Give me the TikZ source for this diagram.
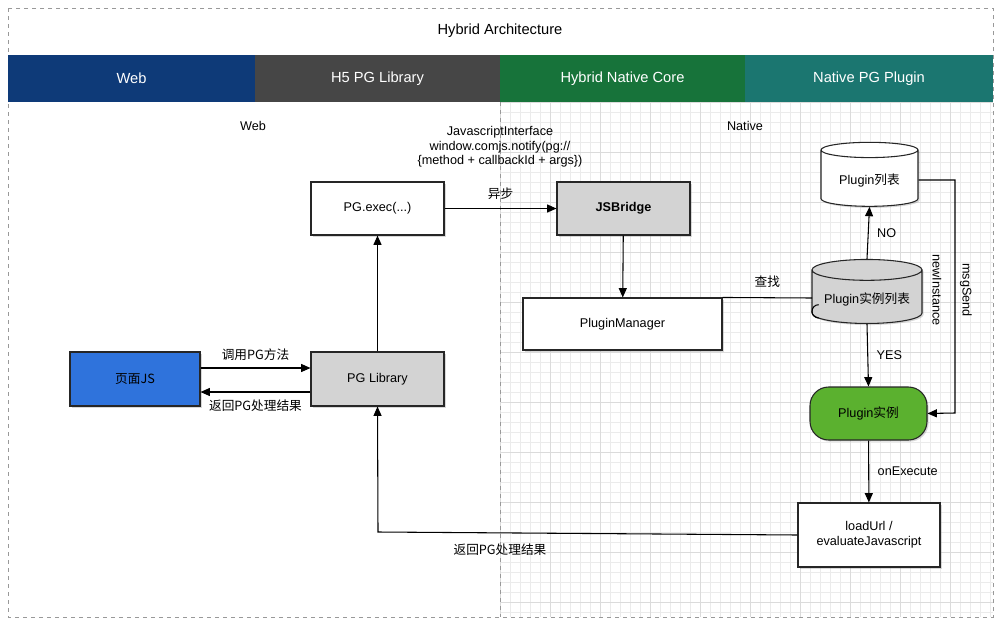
\documentclass[tikz,border=0pt]{standalone}
\usepackage{fontspec}
\setmainfont{Liberation Sans}
\newfontfamily\cjk{Noto Sans CJK SC}
\usetikzlibrary{shapes.geometric,arrows.meta,shadows}
\definecolor{webc}{HTML}{0E3A78}
\definecolor{h5c}{HTML}{464646}
\definecolor{corec}{HTML}{17733A}
\definecolor{plugc}{HTML}{1B7670}
\definecolor{pagejs}{HTML}{2F73DC}
\definecolor{boxgray}{HTML}{D3D3D3}
\definecolor{pgreen}{HTML}{5BB12F}
\begin{document}
\begin{tikzpicture}[x=0.75pt,y=-0.75pt,
  every node/.style={font=\fontsize{9.5}{11}\selectfont},
  box/.style={draw=black!85,line width=0.8pt,minimum width=#1*0.75pt,drop shadow={shadow xshift=1.2pt,shadow yshift=-1.2pt,opacity=0.3}},
  box/.default=133,
  arr/.style={-{Triangle[length=7pt,width=6pt]},line width=0.8pt},
  ln/.style={line width=0.8pt},
  hdr/.style={text=white,font=\fontsize{11}{13}\selectfont,minimum height=35.25pt,inner sep=0},
  cyl/.style={cylinder,shape border rotate=90,aspect=0.22,draw=black!85,line width=0.8pt,minimum width=#1*0.75pt,minimum height=48pt,drop shadow={shadow xshift=1.2pt,shadow yshift=-1.2pt,opacity=0.3}}]
\useasboundingbox (0,0) rectangle (1000,625);
\fill[white] (0,0) rectangle (1000,625);
% grid
\begin{scope}
\clip (500,102) rectangle (993,617);
\foreach \x in {500,510,...,1000} \draw[black!8,line width=0.3pt] (\x,102)--(\x,617);
\foreach \y in {102,112,...,620} \draw[black!8,line width=0.3pt] (500,\y)--(993,\y);
\foreach \x in {500,550,...,1000} \draw[black!14,line width=0.4pt] (\x,102)--(\x,617);
\foreach \y in {102,152,...,620} \draw[black!14,line width=0.4pt] (500,\y)--(993,\y);
\end{scope}
\draw[black!40,dashed,line width=0.6pt] (8,8) rectangle (993,617);
\draw[black!40,dashed,line width=0.6pt] (500,102) -- (500,617);
\node (title) at (500,31) {\fontsize{11}{13}\selectfont Hybrid Architecture};
\node[hdr,fill=webc,minimum width=185.25pt] (hweb) at (131.5,78.5) {Web};
\node[hdr,fill=h5c,minimum width=183.75pt] (hh5) at (377.5,78.5) {H5 PG Library};
\node[hdr,fill=corec,minimum width=183.75pt] (hcore) at (622.5,78.5) {Hybrid Native Core};
\node[hdr,fill=plugc,minimum width=186pt] (hplug) at (869,78.5) {Native PG Plugin};
\node (lweb) at (253,126) {Web};
\node (lnat) at (745,126) {Native};
\node[align=center,inner sep=0] (jsi) at (500,147) {JavascriptInterface\\window.comjs.notify(pg://\\\{method + callbackId + args\})};
% nodes
\node[box,fill=white,minimum height=39.75pt] (exec) at (377.5,208.5) {PG.exec(...)};
\node[box,fill=boxgray,minimum height=39.75pt,font=\fontsize{9.5}{11}\bfseries] (jsb) at (623.5,208.5) {JSBridge};
\node[box=199,fill=white,minimum height=39pt] (pm) at (622.5,324) {PluginManager};
\node[box=130,fill=pagejs,minimum height=40.5pt] (page) at (135,379) {\cjk 页面JS};
\node[box,fill=boxgray,minimum height=40.5pt] (lib) at (377.5,379) {PG Library};
\node[cyl=97,fill=white] (plist) at (869.5,180) {Plugin\cjk 列表};
\node[cyl=110,fill=boxgray] (ilist) at (867,299) {Plugin\cjk 实例列表};
\node[box=117,fill=pgreen,rounded corners=14pt,minimum height=39.75pt] (inst) at (868.5,413.5) {Plugin\cjk 实例};
\node[box=142,fill=white,minimum height=48pt,align=center] (load) at (869,535) {loadUrl /\\evaluateJavascript};
% connectors
\draw[arr] (page.east |- 0,368) -- (lib.west |- 0,368) node[midway,above=2pt] {\cjk 调用PG方法};
\draw[arr] (lib.west |- 0,392) -- (page.east |- 0,392) node[midway,below=2pt] {\cjk 返回PG处理结果};
\draw[arr] (lib) -- (exec);
\draw[arr] (exec) -- (jsb) node[midway,above=3pt] {\cjk 异步};
\draw[arr] (jsb) -- (pm);
\coordinate (cup) at (812,298);
\draw[ln] (pm.north east) -- (cup) node[midway,above=4pt,xshift=0pt] {\cjk 查找};
\draw[ln] ([xshift=5pt]cup) ++(0,-5pt) arc[start angle=90,end angle=270,radius=5pt];
\draw[arr] (ilist.north) -- (plist.south) node[midway,right=3pt] {NO};
\draw[arr] (ilist.south) -- (inst.north) node[midway,right=3pt] {YES};
\draw[arr] (plist.east) -- (955,180) -- (955,413) -- (inst.east);
\node[rotate=-90] (ni) at (937,290) {newInstance};
\node[rotate=-90] (ms) at (966,290) {msgSend};
\draw[arr] (inst) -- (load) node[midway,right=3pt] {onExecute};
\draw[arr] (load.west) -- (378,532) -- (lib.south);
\node (ret2) at (500,550) {\cjk 返回PG处理结果};
\end{tikzpicture}
\end{document}
